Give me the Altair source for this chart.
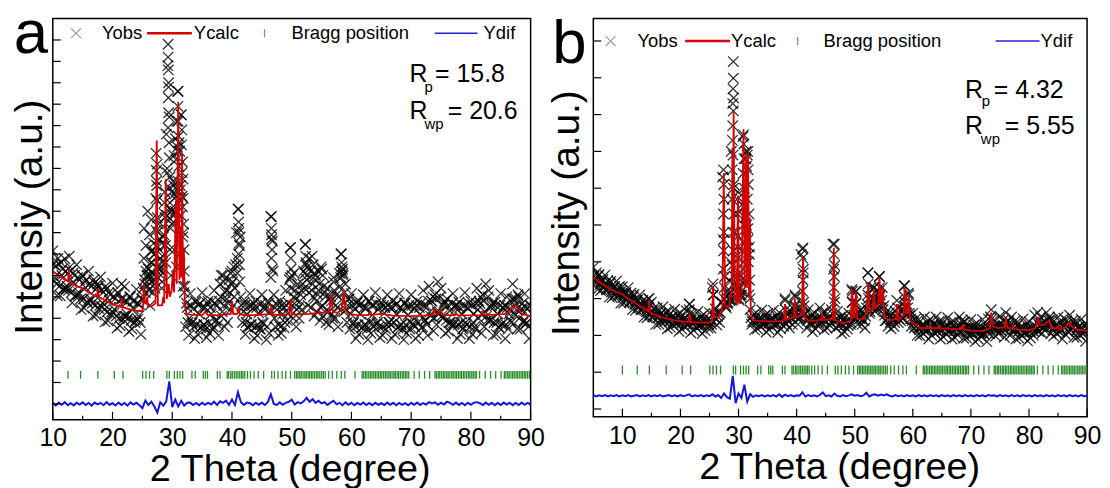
import altair as alt
import numpy as np
import pandas as pd

FONT = "Liberation Sans"
XPATH = "M-1,-1L1,1M-1,1L1,-1"

# ---------------- panel a ----------------
# observed intensity, 10..90 deg every 0.25 deg
a_obs = [
    7.15, 5.75, 6.45, 5.05, 6.55, 5.05, 6.0, 5.35, 6.78, 5.38, 6.1, 6.9, 6.22, 4.72, 5.67, 5.02,
    6.5, 5.1, 5.8, 4.4, 5.98, 4.48, 5.43, 4.78, 6.2, 4.8, 5.5, 4.1, 5.65, 4.15, 5.6, 4.45,
    5.93, 4.53, 5.23, 3.83, 5.38, 3.88, 4.83, 4.18, 5.64, 4.24, 4.94, 3.54, 5.15, 3.65, 5.6, 3.95,
    5.48, 4.08, 4.78, 3.38, 5.0, 3.5, 4.45, 3.8, 5.35, 3.95, 4.65, 3.25, 4.9, 6.8, 5.2, 6.0,
    6.3, 4.6, 7.1, 5.2, 5.6, 9.6, 11.2, 6.3, 6.8, 5.4, 7.8, 9.9, 12.6, 15.8, 13.4, 9.1,
    8.4, 10.2, 9.0, 13.2, 14.6, 11.8, 13.5, 9.2, 5.2, 3.6, 4.5, 3.2, 5.15, 3.75, 4.45, 3.05,
    4.75, 3.25, 4.2, 3.55, 5.2, 3.7, 4.5, 3.1, 4.8, 3.3, 4.2, 3.5, 5.3, 3.9, 4.6, 3.2,
    5.6, 4.1, 6.0, 3.6, 5.3, 3.8, 5.8, 4.4, 6.2, 4.6, 5.4, 8.0, 9.1, 7.4, 5.0, 3.8,
    4.75, 3.25, 4.2, 3.55, 5.15, 3.7, 4.45, 3.05, 4.8, 3.2, 4.25, 3.5, 5.1, 3.75, 4.4, 3.0,
    4.8, 3.3, 8.75, 7.6, 5.1, 3.6, 4.4, 3.2, 4.8, 3.3, 4.2, 3.55, 5.3, 3.9, 4.7, 7.3,
    6.0, 4.0, 5.3, 3.6, 5.6, 4.0, 5.1, 4.4, 6.2, 7.45, 5.8, 4.6, 6.8, 4.5, 5.6, 4.1,
    6.0, 4.3, 5.3, 3.9, 6.3, 4.1, 5.2, 3.8, 5.4, 3.7, 5.0, 4.2, 5.7, 4.0, 5.1, 3.6,
    6.1, 7.0, 6.3, 4.3, 5.6, 3.8, 4.9, 3.5, 5.15, 3.75, 4.45, 3.05, 4.75, 3.25, 4.2, 3.55,
    5.1, 3.7, 4.5, 3.0, 4.8, 3.3, 4.15, 3.6, 5.2, 3.75, 4.4, 3.1, 4.75, 3.2, 4.25, 3.5,
    5.1, 3.8, 4.5, 3.05, 4.8, 3.25, 4.2, 3.55, 5.15, 3.7, 4.4, 3.0, 4.7, 3.3, 4.15, 3.5,
    5.1, 3.75, 4.45, 3.05, 4.8, 3.2, 4.2, 3.55, 5.3, 3.9, 4.6, 3.2, 5.5, 4.1, 4.8, 3.4,
    5.1, 3.7, 5.7, 4.3, 5.4, 4.0, 4.7, 3.3, 4.9, 3.4, 4.35, 3.7, 5.15, 3.75, 4.45, 3.05,
    4.75, 3.25, 4.2, 3.55, 5.2, 3.7, 4.45, 3.05, 4.8, 3.25, 4.2, 3.5, 5.4, 4.0, 4.7, 3.3,
    5.1, 3.6, 5.6, 3.9, 5.3, 3.9, 4.6, 3.2, 4.75, 3.25, 4.2, 3.55, 5.15, 3.75, 4.45, 3.05,
    5.0, 3.5, 4.45, 3.8, 5.6, 4.2, 4.9, 3.5, 5.0, 3.5, 4.45, 3.8, 5.15, 3.75, 4.45, 3.05,
    4.6,
]
# more observed points, at d+0.125 and d+0.625 deg for d = 10..89
a_obs2 = [
    6.5, 5.6, 5.5, 6.3, 6.2, 5.3, 5.2, 6.0, 5.9, 4.9, 4.9, 5.8, 5.6, 4.7, 4.6, 5.5,
    5.3, 4.4, 4.3, 5.1, 5.0, 4.1, 4.0, 4.9, 4.8, 4.0, 3.9, 4.8, 4.7, 3.8, 5.4, 6.2,
    5.8, 6.6, 7.0, 8.4, 6.2, 8.9, 11.0, 10.6, 8.8, 11.4, 12.2, 10.8, 5.5, 3.8, 4.6, 3.6,
    3.7, 4.7, 4.5, 3.5, 3.8, 4.8, 4.7, 3.7, 5.0, 4.6, 4.9, 5.2, 5.7, 6.5, 8.2, 4.6,
    4.6, 3.6, 3.7, 4.7, 4.5, 3.5, 3.8, 4.6, 4.7, 7.9, 4.0, 4.6, 3.6, 4.5, 4.6, 5.8,
    4.6, 4.9, 4.5, 5.3, 5.4, 6.0, 6.2, 5.0, 4.8, 5.6, 4.6, 5.0, 4.3, 4.8, 5.3, 4.5,
    5.5, 6.0, 4.4, 4.9, 4.6, 3.6, 3.7, 4.7, 4.5, 3.5, 3.8, 4.6, 4.7, 3.6, 3.6, 4.5,
    4.6, 3.7, 3.8, 4.7, 4.5, 3.5, 3.7, 4.6, 4.6, 3.6, 3.8, 4.7, 4.6, 3.7, 4.3, 5.0,
    4.9, 4.2, 4.1, 4.8, 4.6, 3.8, 3.7, 4.6, 4.5, 3.5, 3.8, 4.7, 4.6, 3.6, 4.4, 5.0,
    4.8, 4.1, 3.9, 4.7, 4.6, 3.6, 3.7, 4.6, 4.5, 3.9, 4.9, 4.4, 4.0, 4.7, 4.5, 3.6,
]
# more observed points, at d+0.375 and d+0.875 deg for d = 10..89
a_obs3 = [
    5.9, 6.8, 6.6, 5.4, 5.5, 6.4, 6.1, 5.1, 5.2, 6.0, 5.7, 4.7, 4.9, 5.8, 5.4, 4.6,
    4.7, 5.5, 5.2, 4.3, 4.4, 5.2, 4.9, 4.1, 4.2, 5.0, 4.8, 3.9, 4.1, 4.9, 5.8, 5.5,
    6.0, 7.5, 10.4, 7.7, 6.6, 7.4, 14.8, 9.9, 9.6, 12.0, 10.0, 8.0, 4.7, 4.0, 3.8, 4.8,
    4.6, 3.6, 3.7, 4.7, 4.5, 3.6, 3.9, 4.8, 4.3, 5.2, 4.7, 5.6, 5.0, 6.8, 7.8, 4.3,
    3.8, 4.6, 4.6, 3.6, 3.7, 4.7, 4.5, 3.6, 4.3, 6.2, 4.7, 3.7, 4.6, 3.8, 4.2, 5.4,
    5.0, 4.4, 4.8, 5.6, 6.6, 5.2, 5.3, 5.8, 5.1, 4.5, 5.5, 4.4, 4.9, 4.0, 4.6, 5.0,
    6.4, 5.2, 4.6, 4.2, 3.8, 4.7, 4.6, 3.6, 3.7, 4.8, 4.6, 3.7, 3.8, 4.6, 4.6, 3.7,
    3.8, 4.5, 4.6, 3.6, 3.7, 4.7, 4.5, 3.8, 3.7, 4.6, 4.5, 3.6, 3.9, 4.8, 4.8, 4.0,
    4.3, 5.0, 4.6, 3.9, 3.8, 4.7, 4.6, 3.7, 3.8, 4.6, 4.5, 3.6, 3.8, 4.7, 4.8, 4.2,
    4.3, 5.0, 4.5, 3.8, 3.8, 4.6, 4.5, 3.7, 4.2, 4.9, 4.6, 5.1, 4.4, 3.9, 3.8, 4.6,
]
# extra observed points stacked in the reflections
a_pk_x = [25.3, 25.6, 25.9, 26.2, 26.5, 26.7, 26.0, 26.4, 26.8, 27.0,
          27.3, 27.35, 27.4, 27.45, 27.5, 27.3, 27.4, 27.7, 27.9, 28.1,
          28.2, 28.5, 28.7, 28.4, 28.6, 28.8, 29.1,
          29.3, 29.3, 29.35, 29.4, 29.35, 29.4, 29.3, 29.45, 29.5, 29.2, 29.55, 29.6,
          29.9, 30.1, 30.3, 30.5, 29.7, 29.95, 30.2, 30.4, 30.6, 30.8,
          30.9, 30.95, 31.0, 31.05, 30.9, 31.1, 31.0, 31.2, 31.35, 31.45,
          31.5, 31.6, 31.55, 31.7, 31.8, 31.85, 31.9, 31.95, 32.0, 31.65, 31.75,
          25.4, 25.8, 26.1, 26.6, 27.1, 27.6, 28.0, 28.3, 28.9, 29.8, 30.0, 30.7, 31.3, 31.8,
          38.2, 38.6, 39.8, 40.3,
          41.1, 41.1, 41.15, 41.2, 41.1, 41.25, 40.9, 41.3,
          46.6, 46.6, 46.65, 46.7, 46.6, 46.75, 46.5,
          49.8, 49.85, 49.9, 49.75, 50.4,
          52.3, 52.35, 52.4, 52.2, 52.6,
          53.4, 53.6, 53.8, 54.4, 54.9, 55.2,
          57.0, 58.3, 58.35, 58.4, 58.2, 58.6]
a_pk_y = [8.2, 7.4, 9.0, 7.9, 8.6, 7.2, 6.0, 6.6, 5.8, 7.0,
          11.7, 10.9, 10.2, 9.5, 8.7, 8.1, 7.4, 6.5, 7.2, 6.0,
          7.5, 8.3, 9.4, 6.9, 7.9, 8.7, 8.8,
          16.8, 16.2, 15.6, 15.0, 14.3, 13.6, 12.9, 12.2, 11.5, 10.8, 10.1, 9.4,
          9.0, 10.4, 11.6, 12.4, 8.2, 7.3, 8.5, 9.8, 8.9, 10.0,
          14.6, 13.9, 13.2, 12.5, 11.8, 11.1, 10.4, 9.5, 10.2, 8.8,
          13.5, 12.8, 12.1, 11.3, 10.5, 9.6, 8.4, 7.2, 6.2, 9.7, 7.8,
          5.6, 6.4, 5.3, 6.1, 5.4, 5.9, 6.3, 5.7, 6.6, 6.0, 7.1, 6.4, 7.0, 5.5,
          6.0, 5.7, 6.1, 6.4,
          9.1, 8.5, 8.0, 7.5, 7.0, 6.5, 6.1, 5.7,
          8.75, 8.2, 7.7, 7.2, 6.8, 6.3, 5.9,
          7.3, 6.8, 6.3, 5.9, 6.1,
          7.45, 6.9, 6.5, 6.1, 6.4,
          6.9, 6.5, 6.1, 6.2, 6.4, 6.0,
          5.9, 7.0, 6.6, 6.2, 5.9, 6.1]
a_calc_x = [10, 11, 12, 12.55, 12.7, 12.85, 13, 14, 15, 16, 17, 17.4, 17.55, 17.7, 18, 19, 20,
            20.3, 20.4, 20.5, 21, 21.45, 21.6, 21.75, 22, 23, 24, 25, 25.1, 25.25, 25.45, 25.7,
            25.8, 25.95, 26.5, 27.2, 27.4, 27.6, 28.3, 28.5, 28.65, 28.9, 29.1, 29.4, 29.6, 29.9,
            30.1, 30.3, 30.6, 30.75, 31.0, 31.2, 31.4, 31.5, 31.65, 31.8, 31.95, 32.1, 32.4, 33,
            35, 35.5, 36, 38, 39.8, 40.0, 40.2, 40.9, 41.1, 41.3, 42, 44, 46.4, 46.6, 46.8, 48,
            49.6, 49.8, 50.0, 50.5, 53, 54.4, 54.6, 54.8, 56.3, 56.6, 56.9, 57.6, 58.4, 58.7,
            59.0, 59.5, 61, 62.8, 63, 63.2, 65, 67, 70, 73.5, 73.8, 74.2, 74.6, 74.9, 75.3,
            77.3, 77.5, 77.8, 81.7, 82.0, 82.3, 86, 86.8, 87.3, 87.8, 88.5, 90]
a_calc_y = [6.2, 6.0, 5.8, 5.72, 6.3, 5.7, 5.65, 5.5, 5.4, 5.2, 5.05, 5.0, 5.4, 4.98, 4.95, 4.8, 4.65,
            4.62, 4.75, 4.6, 4.55, 4.52, 4.95, 4.5, 4.5, 4.4, 4.35, 4.33, 4.5, 5.6, 4.7, 4.7,
            5.0, 4.55, 4.55, 4.7, 12.3, 4.6, 4.6, 5.0, 4.7, 10.5, 4.9, 5.6, 5.0, 5.3,
            6.2, 5.2, 9.5, 5.6, 14.1, 5.8, 8.2, 5.9, 11.7, 5.6, 7.3, 4.6, 4.2, 4.17,
            4.15, 4.3, 4.15, 4.15, 4.2, 4.8, 4.2, 4.2, 4.5, 4.2, 4.15, 4.15, 4.2, 4.6, 4.18, 4.15,
            4.2, 4.9, 4.2, 4.17, 4.2, 4.25, 4.35, 4.25, 4.3, 5.1, 4.3, 4.25, 4.4, 5.3,
            4.4, 4.2, 4.15, 4.15, 4.25, 4.15, 4.2, 4.12, 4.1, 4.15, 4.4, 4.2, 4.2, 4.4, 4.15,
            4.15, 4.25, 4.13, 4.15, 4.3, 4.15, 4.2, 4.45, 4.6, 4.5, 4.2, 4.1]
# difference curve, 10..90 deg every 0.5 deg
a_dif = [
    0.05, -0.08, 0.06, -0.04, 0.08, -0.06, 0.03, -0.07, 0.05, -0.03,
    0.07, -0.05, 0.04, -0.08, 0.06, -0.02, 0.05, -0.06, 0.08, -0.04,
    0.03, -0.07, 0.06, -0.05, 0.04, -0.08, 0.07, -0.03, 0.05, -0.06,
    -0.2, 0.15, -0.05, 0.1, -0.12, -0.4, 0.08, -0.08, 0.12, 1.05,
    -0.15, 0.2, -0.12, 0.15, -0.08, 0.05, 0.06, -0.05, 0.04, -0.06,
    0.05, -0.04, 0.06, -0.03, 0.1, -0.05, 0.12, 0.05, 0.15, -0.05,
    0.2, -0.05, 0.55, 0.08, -0.05, 0.06, 0.03, -0.06, 0.05, -0.04,
    0.06, -0.05, 0.08, 0.45, 0.0, -0.05, 0.07, -0.04, 0.05, 0.1,
    0.2, -0.03, 0.08, 0.02, 0.12, 0.28, 0.1, 0.22, 0.05, 0.15,
    0.02, 0.08, -0.05, 0.06, 0.14, -0.02, 0.05, -0.06, 0.07, -0.04,
    0.05, -0.06, 0.04, -0.03, 0.06, -0.05, 0.04, -0.06, 0.05, -0.04,
    0.03, -0.05, 0.06, -0.04, 0.05, -0.06, 0.04, -0.05, 0.03, -0.06,
    0.05, -0.04, 0.06, -0.05, 0.04, -0.03, 0.08, 0.02, 0.07, -0.04,
    0.06, -0.03, 0.1, 0.05, -0.04, 0.06, -0.05, 0.04, -0.06, 0.05,
    -0.04, 0.06, 0.08, 0.03, -0.05, 0.06, -0.04, 0.05, -0.06, 0.04,
    -0.05, 0.06, -0.03, 0.05, -0.06, 0.04, -0.05, 0.06, -0.04, 0.05,
    -0.03,
]

# ---------------- panel b ----------------
# observed intensity, 5..90 deg every 0.25 deg
b_obs = [
    3.85, 3.45, 3.7, 3.25, 3.66, 3.22, 3.49, 3.29, 3.64, 3.24, 3.49, 3.04, 3.47, 3.03, 3.3, 3.1,
    3.48, 3.08, 3.33, 2.88, 3.32, 2.88, 3.15, 2.95, 3.3, 2.9, 3.15, 2.7, 3.12, 2.68, 2.95, 2.75,
    3.1, 2.7, 2.95, 2.5, 2.92, 2.48, 3.0, 2.55, 2.9, 2.5, 2.75, 2.3, 2.75, 2.31, 2.58, 2.38,
    2.78, 2.38, 2.63, 2.18, 2.66, 2.22, 2.49, 2.29, 2.71, 2.31, 2.56, 2.11, 2.61, 2.17, 2.44, 2.24,
    2.67, 2.27, 2.85, 2.07, 2.58, 2.14, 2.41, 2.21, 2.65, 2.25, 2.5, 2.05, 2.57, 2.13, 2.4, 2.2,
    2.62, 2.2, 3.3, 2.6, 2.72, 2.28, 2.65, 2.35, 2.9, 6.3, 3.0, 2.8, 2.9, 3.1, 2.95, 7.0,
    8.3, 3.4, 3.0, 5.7, 3.0, 3.1, 3.2, 7.4, 3.4, 6.8, 6.9, 3.1, 2.7, 2.3, 2.55, 2.15,
    2.62, 2.18, 2.45, 2.25, 2.69, 2.29, 2.54, 2.09, 2.6, 2.16, 2.43, 2.23, 2.68, 2.28, 2.53, 2.08,
    2.62, 2.18, 2.45, 2.25, 2.95, 2.32, 2.6, 2.2, 2.65, 2.3, 2.8, 3.05, 2.62, 2.3, 2.75, 4.2,
    4.35, 2.8, 2.6, 2.2, 2.7, 2.3, 2.55, 2.1, 2.62, 2.18, 2.45, 2.25, 2.75, 2.35, 2.62, 2.15,
    2.64, 2.2, 2.47, 2.27, 2.7, 4.48, 2.9, 2.2, 2.65, 2.25, 2.5, 2.05, 2.54, 2.1, 2.37, 2.17,
    2.6, 2.3, 3.25, 2.5, 2.45, 3.2, 2.3, 2.65, 2.7, 2.3, 2.6, 2.2, 2.75, 3.7, 2.6, 3.3,
    2.9, 3.3, 2.65, 2.95, 3.0, 3.6, 2.75, 3.3, 2.8, 2.4, 2.65, 2.25, 2.62, 2.18, 2.45, 2.25,
    2.65, 2.95, 2.35, 2.55, 2.7, 2.45, 3.35, 2.75, 2.85, 3.15, 2.55, 2.25, 2.6, 2.2, 2.45, 2.0,
    2.43, 1.99, 2.26, 2.06, 2.5, 2.1, 2.35, 1.9, 2.44, 2.0, 2.3, 2.07, 2.5, 2.1, 2.38, 1.9,
    2.4, 1.96, 2.23, 2.03, 2.48, 2.1, 2.35, 1.9, 2.38, 1.94, 2.21, 2.01, 2.5, 2.1, 2.42, 1.92,
    2.37, 1.93, 2.2, 2.0, 2.43, 2.03, 2.28, 1.83, 2.34, 1.9, 2.17, 1.97, 2.43, 2.03, 2.28, 1.83,
    2.45, 2.05, 2.7, 2.2, 2.42, 1.98, 2.25, 2.05, 2.52, 2.12, 2.4, 1.95, 2.62, 2.2, 2.4, 2.0,
    2.5, 2.1, 2.38, 1.9, 2.37, 1.93, 2.2, 2.0, 2.45, 2.05, 2.3, 1.85, 2.37, 1.93, 2.22, 2.0,
    2.55, 2.15, 2.62, 2.1, 2.5, 2.06, 2.33, 2.13, 2.62, 2.25, 2.5, 2.05, 2.42, 1.98, 2.25, 2.05,
    2.5, 2.1, 2.35, 1.9, 2.47, 2.03, 2.4, 2.1, 2.55, 2.15, 2.4, 1.95, 2.39, 1.95, 2.22, 2.02,
    2.44, 2.04, 2.29, 1.84,
    2.3,
]
# more observed points, at d+0.125 and d+0.625 deg for d = 5..89
b_obs2 = [
    3.6, 3.45, 3.38, 3.52, 3.4, 3.26, 3.18, 3.33, 3.24, 3.1, 3.03, 3.17, 3.07, 2.93, 2.84, 2.97,
    2.87, 2.73, 2.64, 2.85, 2.67, 2.54, 2.47, 2.6, 2.55, 2.42, 2.38, 2.5, 2.47, 2.35, 2.33, 2.45,
    2.43, 2.6, 2.3, 2.42, 2.41, 2.29, 2.29, 2.41, 2.42, 3.1, 2.44, 2.57, 2.9, 3.6, 2.85, 4.0,
    6.0, 3.3, 2.95, 4.3, 5.2, 4.6, 2.48, 2.36, 2.34, 2.46, 2.45, 2.33, 2.32, 2.44, 2.44, 2.31,
    2.35, 2.47, 2.5, 2.38, 2.45, 2.7, 2.55, 2.48, 3.7, 2.45, 2.46, 2.34, 2.35, 2.46, 2.5, 2.4,
    2.36, 2.48, 2.6, 2.42, 2.4, 2.3, 2.27, 2.38, 2.45, 2.9, 2.85, 2.5, 2.5, 2.4, 2.85, 2.65,
    3.0, 2.7, 3.2, 2.95, 2.55, 2.45, 2.35, 2.46, 2.5, 2.45, 2.5, 2.9, 2.75, 2.45, 2.35, 2.25,
    2.16, 2.27, 2.25, 2.15, 2.2, 2.3, 2.27, 2.15, 2.13, 2.24, 2.26, 2.15, 2.12, 2.22, 2.24, 2.35,
    2.2, 2.1, 2.08, 2.19, 2.18, 2.07, 2.07, 2.18, 2.2, 2.45, 2.25, 2.14, 2.15, 2.27, 2.38, 2.25,
    2.25, 2.14, 2.1, 2.21, 2.2, 2.09, 2.1, 2.2, 2.25, 2.38, 2.33, 2.22, 2.3, 2.42, 2.15, 2.26,
    2.25, 2.14, 2.2, 2.32, 2.3, 2.2, 2.12, 2.23, 2.2, 2.09,
]
# more observed points, at d+0.375 and d+0.875 deg for d = 5..89
b_obs3 = [
    3.5, 3.62, 3.48, 3.36, 3.3, 3.42, 3.28, 3.16, 3.12, 3.22, 3.14, 3.02, 2.96, 3.06, 2.93, 2.81,
    2.76, 2.86, 2.75, 2.62, 2.57, 2.66, 2.56, 2.45, 2.44, 2.53, 2.48, 2.37, 2.36, 2.46, 2.43, 2.33,
    2.33, 2.42, 2.4, 2.3, 2.31, 2.4, 2.39, 2.3, 2.3, 2.5, 2.52, 2.62, 4.6, 2.75, 3.0, 2.95,
    4.8, 4.4, 3.05, 5.6, 5.0, 4.2, 2.38, 2.46, 2.44, 2.33, 2.34, 2.45, 2.43, 2.32, 2.33, 2.44,
    2.45, 2.36, 2.42, 2.5, 2.55, 2.5, 2.45, 2.6, 2.55, 2.4, 2.36, 2.45, 2.44, 2.34, 2.58, 2.42,
    2.45, 2.36, 3.8, 2.45, 2.32, 2.42, 2.36, 2.27, 2.35, 2.55, 2.55, 2.45, 2.42, 2.52, 3.0, 2.8,
    2.8, 2.75, 3.1, 2.7, 2.4, 2.5, 2.45, 2.35, 2.75, 2.4, 2.7, 2.6, 2.6, 2.4, 2.28, 2.2,
    2.25, 2.16, 2.16, 2.25, 2.26, 2.16, 2.18, 2.27, 2.23, 2.13, 2.14, 2.25, 2.2, 2.11, 2.3, 2.18,
    2.12, 2.21, 2.18, 2.08, 2.09, 2.17, 2.17, 2.08, 2.5, 2.25, 2.16, 2.26, 2.25, 2.15, 2.3, 2.2,
    2.16, 2.26, 2.2, 2.1, 2.1, 2.2, 2.2, 2.1, 2.35, 2.25, 2.24, 2.36, 2.4, 2.25, 2.25, 2.15,
    2.15, 2.25, 2.3, 2.2, 2.22, 2.32, 2.22, 2.12, 2.1, 2.2,
]
b_pk_x = [14.6, 21.6, 21.5, 25.6, 25.7,
          27.4, 27.45, 27.5, 27.4, 27.5, 27.45, 27.35, 27.55,
          29.1, 29.1, 29.05, 29.15, 29.1, 29.0, 28.95, 29.05, 28.9, 29.2, 28.85, 29.25, 29.0, 29.1, 28.95,
          29.9, 29.85, 29.95, 29.9, 29.8,
          30.85, 30.9, 30.95, 30.8, 31.0, 30.9, 30.85, 31.0, 30.9, 31.1,
          31.3, 31.4, 31.6, 31.65, 31.7, 31.5, 31.8, 31.6, 31.85, 31.7, 31.9, 32.0,
          27.7, 28.0, 28.2, 28.4, 28.6, 29.3, 29.5, 29.7, 30.1, 30.3, 30.5, 30.7, 31.2,
          38.0, 38.1, 39.7, 39.8,
          41.1, 41.05, 41.15, 41.1, 41.0, 41.2,
          46.5, 46.45, 46.55, 46.5, 46.4, 46.6,
          49.6, 49.55, 50.2, 50.25,
          52.3, 52.35, 52.25, 53.3, 53.35,
          54.25, 54.3, 54.2,
          58.6, 58.55, 58.65, 59.3]
b_pk_y = [3.0, 2.85, 2.7, 3.4, 3.1,
          6.5, 6.1, 5.7, 5.3, 4.8, 4.3, 3.8, 3.3,
          9.44, 8.99, 8.7, 8.45, 8.1, 7.7, 7.3, 6.9, 6.5, 6.1, 5.7, 5.3, 4.8, 4.3, 3.9,
          5.9, 5.3, 4.7, 4.1, 3.6,
          7.45, 7.2, 6.8, 6.4, 6.0, 5.5, 5.0, 4.5, 4.0, 3.5,
          7.0, 6.6, 7.0, 6.5, 6.1, 5.7, 5.3, 4.9, 4.4, 4.0, 3.5, 3.0,
          2.8, 3.2, 2.9, 3.5, 3.2, 3.6, 3.2, 3.4, 3.3, 3.6, 3.1, 3.8, 3.5,
          3.0, 2.7, 3.1, 2.8,
          4.38, 4.1, 3.8, 3.5, 3.2, 2.9,
          4.48, 4.2, 3.9, 3.6, 3.3, 3.0,
          3.2, 2.9, 3.2, 2.9,
          3.7, 3.4, 3.1, 3.3, 3.0,
          3.6, 3.3, 3.0,
          3.35, 3.05, 2.8, 3.1]
b_calc_x = [5, 6, 7, 8, 9, 10, 11, 12, 13, 14, 14.45, 14.6, 14.75, 15, 16, 17, 18, 19, 20, 21,
            21.45, 21.6, 21.75, 22, 23, 25, 25.45, 25.6, 25.8, 26.5, 27.2, 27.45, 27.7, 28.3,
            28.8, 28.95, 29.05, 29.15, 29.35, 29.7, 29.9, 30.1, 30.5, 30.85, 31.05, 31.3, 31.45,
            31.65, 31.8, 31.95, 32.1, 32.4, 33, 35, 37, 37.85, 38.0, 38.2, 39.5, 39.7, 39.9,
            40.9, 41.1, 41.3, 42, 43.5, 44.2, 44.4, 44.6, 46.2, 46.4, 46.6, 48, 49.35, 49.55,
            49.8, 50.0, 50.2, 50.45, 51.5, 52.1, 52.3, 52.55, 53.1, 53.3, 53.5, 54.05, 54.25,
            54.5, 54.8, 55.1, 56, 57.1, 57.3, 57.5, 58.4, 58.6, 58.85, 59.1, 59.3, 59.55, 60.5,
            61, 62, 62.8, 63, 63.2, 64.3, 64.5, 64.7, 66, 67, 68.4, 68.6, 68.8, 70, 72, 73.3,
            73.5, 73.75, 74.5, 75.8, 76.0, 76.25, 77.1, 77.3, 77.5, 79, 80, 81.1, 81.3, 81.6,
            81.9, 82.5, 83.0, 83.5, 83.8, 84.8, 85, 85.3, 86.3, 86.8, 87.3, 88, 90]
b_calc_y = [3.57, 3.45, 3.35, 3.25, 3.18, 3.12, 3.0, 2.9, 2.8, 2.7, 2.66, 2.95, 2.63, 2.6, 2.53,
            2.48, 2.44, 2.41, 2.39, 2.37, 2.37, 2.59, 2.36, 2.36, 2.35, 2.35, 2.4, 3.34, 2.5, 2.5,
            2.7, 6.41, 2.8, 2.75, 3.2, 7.09, 3.6, 8.08, 3.0, 2.9, 5.8, 2.9, 3.0, 7.6, 3.3, 6.9,
            3.3, 6.95, 3.1, 5.2, 2.6, 2.42, 2.4, 2.38, 2.38, 2.42, 2.85, 2.42, 2.5, 3.0, 2.5,
            2.55, 4.11, 2.5, 2.4, 2.4, 2.45, 2.6, 2.42, 2.45, 4.38, 2.42, 2.32, 2.4, 3.25,
            2.5, 2.5, 3.2, 2.45, 2.45, 2.6, 3.43, 2.65, 2.7, 3.25, 2.75, 2.8, 3.59,
            2.85, 3.3, 2.5, 2.4, 2.45, 2.85, 2.4, 2.55, 3.31, 2.6, 2.6, 3.1, 2.4, 2.3,
            2.21, 2.2, 2.2, 2.28, 2.2, 2.2, 2.25, 2.18, 2.2, 2.16, 2.18, 2.3, 2.16, 2.13, 2.12, 2.2,
            2.62, 2.25, 2.2, 2.22, 2.47, 2.22, 2.18, 2.3, 2.17, 2.15, 2.14, 2.2, 2.3, 2.45,
            2.28, 2.28, 2.35, 2.4, 2.2, 2.2, 2.25, 2.15, 2.22, 2.35, 2.25, 2.17, 2.12]
# difference curve, 5..90 deg every 0.5 deg
b_dif = [
    0.38, 0.34, 0.37, 0.35, 0.38, 0.34, 0.37, 0.35, 0.38, 0.34,
    0.37, 0.35, 0.38, 0.34, 0.36, 0.38, 0.34, 0.37, 0.35, 0.38,
    0.34, 0.37, 0.35, 0.38, 0.34, 0.36, 0.38, 0.35, 0.37, 0.34,
    0.38, 0.35, 0.37, 0.4, 0.34, 0.37, 0.35, 0.38, 0.34, 0.37,
    0.35, 0.4, 0.34, 0.38, 0.3, 0.42, 0.32, 0.28, 0.9, 0.16,
    0.42, 0.3, 0.66, 0.2, 0.4, 0.33, 0.37, 0.35, 0.38, 0.34,
    0.37, 0.35, 0.38, 0.34, 0.4, 0.33, 0.39, 0.35, 0.38, 0.34,
    0.37, 0.36, 0.45, 0.34, 0.38, 0.35, 0.37, 0.34, 0.38, 0.45,
    0.35, 0.37, 0.34, 0.42, 0.36, 0.34, 0.38, 0.35, 0.37, 0.4,
    0.36, 0.38, 0.35, 0.37, 0.44, 0.34, 0.38, 0.4, 0.36, 0.39,
    0.37, 0.4, 0.36, 0.34, 0.38, 0.35, 0.37, 0.34, 0.38, 0.35,
    0.37, 0.34, 0.38, 0.35, 0.37, 0.34, 0.38, 0.35, 0.37, 0.34,
    0.38, 0.35, 0.37, 0.34, 0.38, 0.35, 0.37, 0.34, 0.38, 0.35,
    0.37, 0.34, 0.38, 0.35, 0.37, 0.34, 0.38, 0.36, 0.37, 0.34,
    0.38, 0.35, 0.37, 0.34, 0.38, 0.35, 0.37, 0.34, 0.38, 0.35,
    0.37, 0.34, 0.38, 0.35, 0.37, 0.34, 0.38, 0.35, 0.37, 0.34,
    0.38, 0.35, 0.37, 0.34, 0.38, 0.35, 0.37, 0.34, 0.38, 0.35,
    0.36,
]

# Bragg reflection positions (same phase in both panels)
bragg = [10.0, 12.55, 14.65, 17.55, 20.3, 21.75,
         25.05, 25.6, 26.2, 26.9, 29.1, 29.5, 30.35, 30.85, 31.3, 31.75,
         33.3, 33.85, 35.2, 35.55, 35.9, 37.55, 38.0,
         39.2, 39.45, 39.8, 40.05, 40.4, 40.7, 41.0, 41.3, 41.6, 41.85, 42.15,
         42.6, 43.1, 43.7, 44.4, 45.3,
         46.65, 47.1, 47.7, 48.4, 49.0, 49.8, 50.5,
         50.8, 51.05, 51.35, 51.6, 51.9, 52.2, 52.45, 52.75, 53.0, 53.3, 53.55, 53.85,
         54.15, 54.4, 54.7, 55.0, 55.3, 55.6,
         56.2, 56.8, 57.55, 58.3, 58.9, 60.6,
         61.8, 62.05, 62.35, 62.6, 62.9, 63.2, 63.45, 63.75, 64.0, 64.3, 64.55, 64.85,
         65.1, 65.4, 65.7, 65.95, 66.25, 66.5, 66.8, 67.1, 67.35, 67.65, 67.9, 68.2,
         68.5, 68.75, 69.05, 69.3, 69.6,
         70.5, 71.35, 72.25, 73.1,
         74.0, 74.25, 74.55, 74.8, 75.1, 75.4, 75.65, 75.95, 76.2, 76.5, 76.8, 77.05,
         77.35, 77.6, 77.9, 78.2, 78.45, 78.75, 79.0, 79.3, 79.6, 79.85, 80.15, 80.4,
         80.7, 80.9,
         81.45, 82.4, 83.3, 84.15, 85.05,
         85.6, 85.85, 86.15, 86.4, 86.7, 87.0, 87.25, 87.55, 87.8, 88.1, 88.4, 88.65,
         88.95, 89.2, 89.5, 89.8]

x_major = [10, 20, 30, 40, 50, 60, 70, 80, 90]
x_minor = [15, 25, 35, 45, 55, 65, 75, 85]

assert len(a_obs) == 321, len(a_obs)
assert len(b_obs) == 341, len(b_obs)
assert len(a_obs2) == 160 and len(a_obs3) == 160, (len(a_obs2), len(a_obs3))
assert len(b_obs2) == 170 and len(b_obs3) == 170, (len(b_obs2), len(b_obs3))
assert len(a_dif) == 161, len(a_dif)
assert len(b_dif) == 171, len(b_dif)
assert len(a_pk_x) == len(a_pk_y), (len(a_pk_x), len(a_pk_y))
assert len(b_pk_x) == len(b_pk_y), (len(b_pk_x), len(b_pk_y))
assert len(a_calc_x) == len(a_calc_y), (len(a_calc_x), len(a_calc_y))
assert len(b_calc_x) == len(b_calc_y), (len(b_calc_x), len(b_calc_y))

ONE = alt.Data(values=[{}])


def txt(s, x, y, size, align="left", baseline="alphabetic", color="black"):
    return alt.Chart(ONE).mark_text(
        text=s, font=FONT, fontSize=size, align=align, baseline=baseline, color=color
    ).encode(x=alt.value(x), y=alt.value(y))


def hline(x1, x2, y, color, width):
    return alt.Chart(ONE).mark_rule(color=color, strokeWidth=width).encode(
        x=alt.value(x1), x2=alt.value(x2), y=alt.value(y))


def vline(x, y1, y2, color, width):
    return alt.Chart(ONE).mark_rule(color=color, strokeWidth=width).encode(
        x=alt.value(x), y=alt.value(y1), y2=alt.value(y2))


def half_grid(start, stop, off):
    # positions d+off and d+off+0.5 for every whole degree d in [start, stop)
    out = []
    for d in range(start, stop):
        out += [d + off, d + off + 0.5]
    return out


def panel(obs_x, obs_y, calc_x, calc_y, dif_x, dif_y, xdom, ydom, W, H,
          ytitle, ytx, yty, xtx, xty, lab_pad, bragg_lo, bragg_hi, n_yticks,
          letter, lx, ly, leg, rtxt):
    sx = alt.Scale(domain=xdom, nice=False, zero=False)
    sy = alt.Scale(domain=ydom, nice=False, zero=False)
    ax = alt.Axis(values=x_major, format="d", labelFontSize=25, labelFont=FONT,
                  labelColor="black", labelFlush=False, labelOverlap=False,
                  labelBaseline="alphabetic", labelPadding=lab_pad,
                  ticks=False, domain=False, grid=False,
                  title="2 Theta (degree)", titleFontSize=38, titleFont=FONT,
                  titleFontWeight="normal", titleColor="black",
                  titleX=xtx, titleY=xty, titleAlign="center", titleBaseline="alphabetic")
    ay = alt.Axis(labels=False, ticks=False, domain=False, grid=False,
                  title=ytitle, titleFontSize=39, titleFont=FONT, titleFontWeight="normal",
                  titleColor="black", titleAngle=270, titleX=ytx, titleY=yty,
                  titleAlign="center", titleBaseline="middle")
    X = lambda f: alt.X(f, scale=sx, axis=ax)
    Y = lambda f: alt.Y(f, scale=sy, axis=ay)

    obs_df = pd.DataFrame({"x": obs_x, "y": obs_y})
    calc_df = pd.DataFrame({"x": calc_x, "y": calc_y})
    dif_df = pd.DataFrame({"x": dif_x, "y": dif_y})
    br = [b for b in bragg if xdom[0] <= b <= xdom[1]]
    br_df = pd.DataFrame({"x": br})

    obs = alt.Chart(obs_df).mark_point(
        shape=XPATH, size=110, filled=False, color="#000000", strokeWidth=1.3,
        opacity=0.8, clip=True).encode(x=X("x:Q"), y=Y("y:Q"))
    calc = alt.Chart(calc_df).mark_line(color="#d40000", strokeWidth=1.8, clip=True).encode(
        x=X("x:Q"), y=Y("y:Q"))
    brg = alt.Chart(br_df).mark_rule(color="#2a8c2a", strokeWidth=1.3, clip=True).encode(
        x=X("x:Q"), y=alt.Y(datum=bragg_lo, scale=sy, axis=ay), y2=alt.datum(bragg_hi))
    dif = alt.Chart(dif_df).mark_line(color="#1515e0", strokeWidth=2.0, clip=True).encode(
        x=X("x:Q"), y=Y("y:Q"))
    yt = alt.Chart(pd.DataFrame({"t": list(range(n_yticks))})).mark_rule(
        color="black", strokeWidth=1.2).encode(y=Y("t:Q"), x=alt.value(0), x2=alt.value(8))
    xt1 = alt.Chart(pd.DataFrame({"t": x_major})).mark_rule(
        color="black", strokeWidth=1.2).encode(x=X("t:Q"), y=alt.value(H), y2=alt.value(H - 8))
    xt2 = alt.Chart(pd.DataFrame({"t": x_minor})).mark_rule(
        color="black", strokeWidth=1.2).encode(x=X("t:Q"), y=alt.value(H), y2=alt.value(H - 4))

    # legend row
    lx_sym, lx_yobs, red1, red2, lx_ycalc, gx, lx_bragg, bl1, bl2, lx_ydif, ly_c, ly_b = leg
    legend = [
        alt.Chart(ONE).mark_point(shape=XPATH, size=100, filled=False, color="#777777",
                                  strokeWidth=1.2).encode(x=alt.value(lx_sym), y=alt.value(ly_c)),
        txt("Yobs", lx_yobs, ly_b, 18.5),
        hline(red1, red2, ly_c, "#d40000", 2.5),
        txt("Ycalc", lx_ycalc, ly_b, 18.5),
        vline(gx, ly_c - 4, ly_c + 4, "#5aa55a", 1.2),
        txt("Bragg position", lx_bragg, ly_b, 18.5),
        hline(bl1, bl2, ly_c, "#2020e0", 1.5),
        txt("Ydif", lx_ydif, ly_b, 18.5),
    ]
    rx, rb1, sub1x, sub1b, v1x, rb2, sub2x, sub2b, v2x, rp, rwp = rtxt
    rlayers = [
        txt("R", rx, rb1, 25), txt("p", sub1x, sub1b, 15), txt("= " + rp, v1x, rb1, 25),
        txt("R", rx, rb2, 25), txt("wp", sub2x, sub2b, 15), txt("= " + rwp, v2x, rb2, 25),
    ]
    lab = txt(letter, lx, ly, 62, align="center")
    return alt.layer(obs, calc, brg, dif, yt, xt1, xt2, *legend, *rlayers, lab).properties(
        width=W, height=H)


AW, AH = 480, 403
BW, BH = 496, 400

a_x = (list(np.round(np.arange(10, 90.001, 0.25), 3)) + half_grid(10, 90, 0.125)
       + half_grid(10, 90, 0.375) + a_pk_x)
a_y = a_obs + a_obs2 + a_obs3 + a_pk_y
b_x = (list(np.round(np.arange(5, 90.001, 0.25), 3)) + half_grid(5, 90, 0.125)
       + half_grid(5, 90, 0.375) + b_pk_x)
b_y = b_obs + b_obs2 + b_obs3 + b_pk_y

pa = panel(a_x, a_y, a_calc_x, a_calc_y, list(np.arange(10, 90.001, 0.5)), a_dif,
           [10, 90], [-0.74, 18.0], AW, AH,
           "Intensiy (a.u.)", -23, 199, 238, 61, 26, 1.17, 1.54, 18,
           "a", -22, 35,
           (23.4, 49.4, 94.7, 139.7, 141.7, 212.7, 239.7, 383.7, 426.7, 432.7, 14.7, 20.5),
           (358.4, 64, 373.4, 74, 384, 100.7, 373.4, 110.7, 396.7, "15.8", "20.6"))
pb = panel(b_x, b_y, b_calc_x, b_calc_y, list(np.arange(5, 90.001, 0.5)), b_dif,
           [5, 90], [-0.21, 10.61], BW, BH,
           "Intensity (a.u.)", -27, 195, 247, 62, 27, 0.94, 1.18, 11,
           "b", -24, 45,
           (17.3, 44.3, 92.3, 137.3, 138.3, 205.3, 231.3, 404.3, 448.3, 449.3, 22.6, 28.3),
           (373.3, 80, 390.3, 88.3, 402.3, 116.3, 389.3, 126.3, 413.3, "4.32", "5.55"))

chart = alt.hconcat(pa, pb, spacing=63, bounds="flush").properties(
    padding={"left": 2, "top": -6.5, "right": 0, "bottom": 0}
).configure_view(stroke="black", strokeWidth=1.5)

chart.save("out.html", embed_options={"renderer": "svg", "actions": False})
